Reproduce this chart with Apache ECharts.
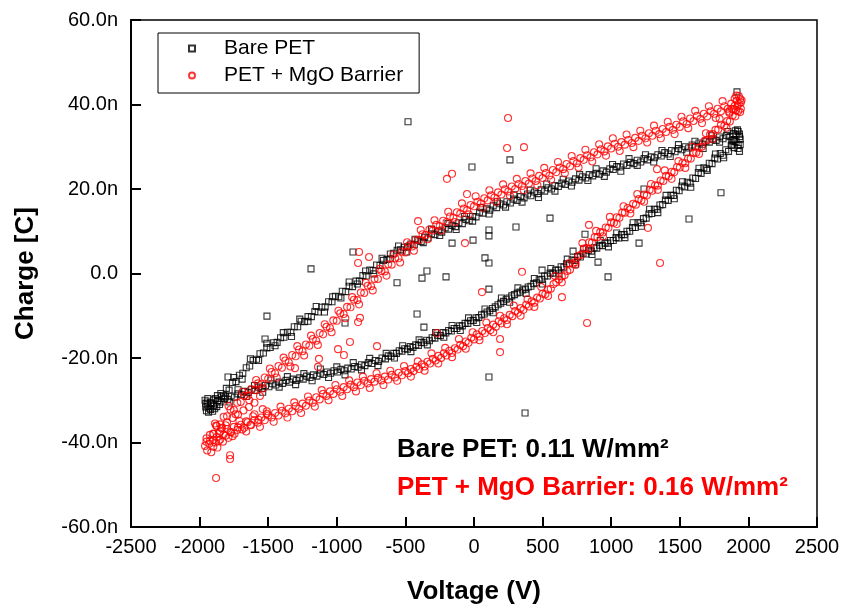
<!DOCTYPE html>
<html>
<head>
<meta charset="utf-8">
<script src="https://cdn.jsdelivr.net/npm/echarts@6/dist/echarts.min.js"></script>
<style>
  html, body { margin: 0; padding: 0; background: #fff; }
  #main { width: 844px; height: 610px; }
</style>
</head>
<body>
<div id="main"></div>
<script>
// Bare PET, upper branch (V, nC)
var bareUp = [[-1955,-31.6],[-1945,-30.4],[-1930,-31.9],[-1915,-30.7],[-1900,-31.4],[-1885,-29.6],[-1865,-30.1],[-1845,-28.4],[-1825,-28.9],[-1805,-27.2],[-1785,-27.6],[-1760,-25.8],[-1735,-25.6],[-1710,-24.1],[-1685,-23.6],[-1660,-22.3],[-1635,-21.9],[-1610,-20.6],[-1585,-20.3],[-1560,-19.0],[-1535,-18.8],[-1510,-17.6],[-1485,-17.5],[-1460,-16.4],[-1435,-16.3],[-1410,-15.2],[-1385,-15.1],[-1360,-13.9],[-1335,-13.9],[-1310,-12.6],[-1285,-12.6],[-1260,-11.3],[-1235,-11.4],[-1210,-10.2],[-1185,-10.2],[-1160,-9.0],[-1135,-9.1],[-1110,-8.0],[-1085,-7.9],[-1060,-6.7],[-1035,-6.7],[-1010,-5.4],[-985,-5.5],[-960,-4.2],[-935,-4.3],[-910,-3.0],[-885,-3.1],[-860,-1.8],[-835,-1.8],[-810,-0.5],[-785,-0.6],[-760,0.8],[-735,0.7],[-710,2.0],[-685,1.9],[-660,3.1],[-635,3.3],[-610,4.6],[-585,4.8],[-560,5.5],[-535,5.6],[-510,6.2],[-485,6.3],[-460,7.0],[-435,6.8],[-410,7.9],[-385,7.6],[-360,8.6],[-335,8.4],[-310,9.4],[-285,9.2],[-260,10.1],[-235,9.8],[-210,10.8],[-185,10.5],[-160,11.4],[-135,11.1],[-110,12.0],[-85,11.8],[-60,12.8],[-35,12.5],[-10,13.5],[15,13.4],[40,14.5],[65,14.3],[90,15.3],[115,15.0],[140,16.0],[165,15.6],[190,16.5],[215,16.2],[240,17.0],[265,16.7],[290,17.6],[315,17.3],[340,18.2],[365,17.9],[390,18.8],[415,18.4],[440,19.3],[465,18.9],[490,19.8],[515,19.5],[540,20.3],[565,20.0],[590,20.8],[615,20.6],[640,21.4],[665,21.1],[690,21.9],[715,21.6],[740,22.4],[765,22.1],[790,22.9],[815,22.6],[840,23.4],[865,23.1],[890,23.7],[915,23.5],[940,24.3],[965,24.0],[990,24.8],[1015,24.6],[1040,25.3],[1065,25.2],[1090,25.9],[1115,25.6],[1140,26.3],[1165,26.0],[1190,26.8],[1215,26.4],[1240,27.2],[1265,26.9],[1290,27.6],[1315,27.4],[1340,28.1],[1365,27.8],[1390,28.6],[1415,28.3],[1440,29.1],[1465,28.8],[1490,29.6],[1515,29.3],[1540,30.0],[1565,29.7],[1590,30.4],[1615,30.1],[1640,30.9],[1665,30.6],[1690,31.3],[1715,31.1],[1740,31.8],[1765,31.5],[1790,32.3],[1815,31.9],[1840,32.7],[1865,32.4],[1890,33.1],[1910,32.8],[1925,33.6],[1935,32.4]];
var bareUpSpread = [[-1870,-28.9],[-1810,-29.2],[-1750,-24.6],[-1690,-25.0],[-1630,-20.2],[-1570,-20.6],[-1510,-16.5],[-1450,-17.1],[-1390,-14.0],[-1330,-14.9],[-1270,-10.8],[-1210,-11.3],[-1150,-7.8],[-1090,-9.1],[-1030,-5.5],[-970,-5.8],[-910,-2.0],[-850,-2.5],[-790,0.6],[-730,-0.1],[-670,3.6],[-610,3.5],[-550,6.5],[-490,5.1],[-430,8.1],[-370,7.3],[-310,10.5],[-250,9.0],[-190,11.8],[-130,10.4],[-70,13.5],[-10,12.4],[50,15.6],[110,14.1],[170,17.0],[230,15.7],[290,18.6],[350,16.9],[410,19.7],[470,18.0],[530,21.2],[590,19.5],[650,22.3],[710,20.7],[770,23.4],[830,22.0],[890,24.8],[950,23.0],[1010,25.8],[1070,24.2],[1130,27.2],[1190,25.6],[1250,28.1],[1310,26.4],[1370,29.1],[1430,27.7],[1490,30.5],[1550,28.7],[1610,31.3],[1670,29.6],[1730,32.6],[1790,31.1],[1850,33.6],[1900,31.7]];
// Bare PET, lower branch
var bareDown = [[1940,31.8],[1925,30.4],[1910,31.2],[1895,29.8],[1875,30.3],[1855,28.9],[1835,29.3],[1815,28.0],[1795,28.4],[1775,27.1],[1755,27.3],[1735,26.0],[1715,26.1],[1695,24.8],[1675,25.0],[1655,23.7],[1635,23.9],[1615,22.5],[1595,22.6],[1575,21.4],[1555,21.6],[1535,20.5],[1515,20.7],[1495,19.6],[1475,19.7],[1455,18.5],[1435,18.5],[1415,17.3],[1395,17.4],[1375,16.3],[1355,16.2],[1335,15.2],[1315,15.2],[1295,14.2],[1275,14.1],[1255,13.1],[1235,13.0],[1215,12.0],[1195,12.0],[1175,10.9],[1155,10.9],[1135,10.0],[1115,10.0],[1095,9.2],[1075,9.2],[1055,8.4],[1035,8.5],[1015,7.8],[995,7.8],[975,7.2],[955,7.2],[935,6.6],[915,6.7],[895,6.0],[875,6.1],[855,5.3],[835,5.5],[815,4.6],[795,4.8],[775,3.9],[755,4.0],[735,3.1],[715,3.2],[695,2.3],[675,2.3],[655,1.5],[635,1.6],[615,0.8],[595,0.8],[575,0.1],[555,0.1],[535,-0.6],[515,-0.6],[495,-1.4],[475,-1.5],[455,-2.2],[435,-2.4],[415,-3.0],[395,-3.2],[375,-3.7],[355,-3.9],[335,-4.4],[315,-4.6],[295,-5.0],[275,-5.3],[255,-5.8],[235,-6.1],[215,-6.6],[195,-7.0],[175,-7.4],[155,-7.9],[135,-8.3],[115,-8.8],[95,-9.1],[75,-9.6],[55,-9.8],[35,-10.4],[15,-10.5],[-5,-11.1],[-25,-11.2],[-45,-11.8],[-65,-11.8],[-85,-12.4],[-105,-12.4],[-125,-13.0],[-145,-13.0],[-165,-13.6],[-185,-13.5],[-205,-14.1],[-225,-14.0],[-245,-14.7],[-265,-14.6],[-285,-15.3],[-305,-15.2],[-325,-15.9],[-345,-15.8],[-365,-16.4],[-385,-16.3],[-405,-17.0],[-425,-16.9],[-445,-17.5],[-465,-17.3],[-485,-17.9],[-505,-17.8],[-525,-18.4],[-545,-18.3],[-565,-18.9],[-585,-18.9],[-605,-19.6],[-625,-19.5],[-645,-20.2],[-670,-20.0],[-695,-20.8],[-720,-20.6],[-745,-21.3],[-770,-21.1],[-795,-21.8],[-820,-21.6],[-845,-22.2],[-870,-22.0],[-895,-22.6],[-920,-22.4],[-945,-23.0],[-970,-22.7],[-995,-23.3],[-1020,-23.0],[-1045,-23.6],[-1070,-23.3],[-1095,-23.9],[-1120,-23.6],[-1145,-24.3],[-1170,-24.0],[-1195,-24.6],[-1220,-24.3],[-1245,-25.0],[-1270,-24.7],[-1295,-25.3],[-1320,-25.0],[-1345,-25.7],[-1370,-25.3],[-1395,-26.0],[-1420,-25.7],[-1445,-26.4],[-1470,-26.1],[-1495,-26.8],[-1520,-26.5],[-1545,-27.2],[-1570,-26.9],[-1595,-27.7],[-1620,-27.4],[-1645,-28.2],[-1670,-27.9],[-1695,-28.7],[-1720,-28.5],[-1745,-29.3],[-1770,-29.0],[-1795,-29.8],[-1820,-29.6],[-1845,-30.4],[-1870,-30.1],[-1895,-30.9],[-1920,-30.6],[-1940,-31.4],[-1955,-30.8]];
var bareDownSpread = [[1880,31.4],[1820,27.4],[1760,28.3],[1700,24.4],[1640,24.9],[1580,20.4],[1520,21.7],[1460,17.7],[1400,18.5],[1340,14.4],[1280,15.2],[1220,11.2],[1160,12.0],[1100,8.5],[1040,9.6],[980,6.3],[920,7.8],[860,4.5],[800,5.8],[740,2.2],[680,3.4],[620,-0.1],[560,1.2],[500,-2.5],[440,-1.2],[380,-4.7],[320,-3.4],[260,-6.8],[200,-5.8],[140,-9.3],[80,-8.4],[20,-11.6],[-40,-10.5],[-100,-13.5],[-160,-12.3],[-220,-15.1],[-280,-14.0],[-340,-16.9],[-400,-15.7],[-460,-18.5],[-520,-17.1],[-580,-20.0],[-640,-18.9],[-700,-21.8],[-760,-20.1],[-820,-22.8],[-880,-21.1],[-940,-24.0],[-1000,-22.1],[-1060,-24.6],[-1120,-22.6],[-1180,-25.4],[-1240,-23.7],[-1300,-26.3],[-1360,-24.4],[-1420,-26.9],[-1480,-25.2],[-1540,-28.1],[-1600,-26.5],[-1660,-29.1],[-1720,-27.5],[-1780,-30.4],[-1840,-29.2]];
// Bare PET, clusters at both tips
var bareTips = [[-1950,-32.5],[-1935,-32.8],[-1920,-32.2],[-1905,-32.6],[-1890,-32.0],[-1960,-30.0],[-1940,-29.6],[-1900,-29.9],[-1875,-31.5],[-1855,-31.0],[1920,34.0],[1935,33.0],[1905,33.8],[1940,30.5],[1925,29.6],[1890,31.5],[1880,30.6],[1935,28.9]];
// Bare PET, stray points
var bareStray = [[-481,35.9],[-1188,1.1],[-882,5.1],[-561,-2.2],[-379,-1.1],[-15,25.2],[262,26.9],[554,13.1],[306,11.0],[109,10.3],[109,8.9],[-7,7.9],[-160,7.2],[80,3.7],[109,2.5],[-343,0.6],[-204,-0.8],[1800,19.1],[1567,12.9],[1203,7.2],[1239,20.0],[809,9.3],[904,2.7],[977,-0.8],[1917,43.0],[722,5.3],[496,0.8],[109,-3.7],[-415,-9.6],[-365,-12.7],[109,-24.5],[372,-33.0],[-1509,-10.1],[-1523,-15.5],[-1793,-24.5],[-940,-11.7]];

// PET + MgO barrier, upper branch
var mgoUp = [[-1950,-39.8],[-1925,-38.2],[-1900,-37.9],[-1875,-36.1],[-1850,-35.7],[-1825,-33.9],[-1800,-33.8],[-1775,-32.2],[-1750,-32.3],[-1725,-30.6],[-1700,-30.4],[-1675,-28.9],[-1650,-29.0],[-1625,-27.4],[-1600,-27.6],[-1575,-26.0],[-1550,-26.2],[-1525,-24.6],[-1500,-24.9],[-1475,-23.3],[-1450,-23.6],[-1425,-21.9],[-1400,-22.3],[-1375,-20.6],[-1350,-21.0],[-1325,-19.3],[-1300,-19.6],[-1275,-18.0],[-1250,-18.4],[-1225,-16.8],[-1200,-17.1],[-1175,-15.5],[-1150,-15.9],[-1125,-14.1],[-1100,-14.4],[-1075,-12.6],[-1050,-12.9],[-1025,-11.1],[-1000,-11.2],[-975,-9.4],[-950,-9.6],[-925,-7.9],[-900,-8.0],[-875,-6.2],[-850,-6.3],[-825,-4.5],[-800,-4.6],[-775,-2.9],[-750,-3.0],[-725,-1.3],[-700,-1.3],[-675,0.6],[-650,0.5],[-625,2.2],[-600,2.1],[-575,3.6],[-550,3.6],[-525,5.2],[-500,5.0],[-475,6.6],[-450,6.4],[-425,8.0],[-400,7.9],[-375,9.3],[-350,9.1],[-325,10.4],[-300,10.2],[-275,11.5],[-250,11.2],[-225,12.5],[-200,12.2],[-175,13.5],[-150,13.2],[-125,14.5],[-100,14.2],[-75,15.4],[-50,15.0],[-25,16.2],[0,15.9],[25,17.0],[50,16.6],[75,17.8],[100,17.3],[125,18.5],[150,18.0],[175,19.2],[200,18.7],[225,19.9],[250,19.4],[275,20.6],[300,20.0],[325,21.2],[350,20.7],[375,21.9],[400,21.3],[425,22.5],[450,21.9],[475,23.1],[500,22.6],[525,23.8],[550,23.2],[575,24.5],[600,24.0],[625,25.1],[650,24.7],[675,25.9],[700,25.4],[725,26.6],[750,26.1],[775,27.3],[800,26.9],[825,28.0],[850,27.5],[875,28.7],[900,28.2],[925,29.4],[950,28.9],[975,30.1],[1000,29.6],[1025,30.7],[1050,30.0],[1075,31.1],[1100,30.5],[1125,31.6],[1150,30.9],[1175,32.1],[1200,31.4],[1225,32.6],[1250,32.0],[1275,33.2],[1300,32.6],[1325,33.8],[1350,33.0],[1375,34.2],[1400,33.5],[1425,34.7],[1450,34.0],[1475,35.2],[1500,34.7],[1525,36.0],[1550,35.4],[1575,36.7],[1600,36.1],[1625,37.3],[1650,36.6],[1675,37.8],[1700,37.2],[1725,38.4],[1750,37.8],[1775,39.0],[1800,38.4],[1825,39.6],[1850,39.0],[1875,40.2],[1900,39.7],[1915,40.9],[1930,40.2],[1940,41.3]];
var mgoUpSpread = [[-1888,-35.5],[-1838,-36.7],[-1788,-31.4],[-1738,-33.3],[-1688,-28.0],[-1638,-30.0],[-1588,-25.2],[-1538,-27.2],[-1488,-22.5],[-1438,-24.6],[-1388,-19.9],[-1338,-22.0],[-1288,-17.2],[-1238,-19.4],[-1188,-14.7],[-1138,-16.9],[-1088,-12.0],[-1038,-13.9],[-988,-8.8],[-938,-10.6],[-888,-5.6],[-838,-7.3],[-788,-2.2],[-738,-4.0],[-688,1.1],[-638,-0.5],[-588,4.5],[-538,2.6],[-488,7.4],[-438,5.4],[-388,10.3],[-338,8.1],[-288,12.6],[-238,10.2],[-188,14.6],[-138,12.2],[-88,16.6],[-38,14.0],[12,18.3],[62,15.6],[112,19.7],[162,17.0],[212,21.1],[262,18.4],[312,22.4],[362,19.7],[412,23.7],[462,20.9],[512,25.0],[562,22.2],[612,26.4],[662,23.7],[712,27.8],[762,25.1],[812,29.3],[862,26.5],[912,30.6],[962,27.9],[1012,32.0],[1062,29.0],[1112,32.9],[1162,29.9],[1212,33.8],[1262,31.0],[1312,35.0],[1362,32.0],[1412,35.9],[1462,33.0],[1512,37.1],[1562,34.4],[1612,38.5],[1662,35.6],[1712,39.6],[1762,36.8],[1812,40.8],[1862,38.0],[1912,42.1]];
// PET + MgO barrier, lower branch
var mgoDown = [[1945,39.0],[1925,38.4],[1905,37.2],[1885,37.4],[1865,36.0],[1845,36.1],[1825,35.0],[1800,35.2],[1780,34.1],[1760,34.0],[1740,33.0],[1720,32.9],[1700,31.6],[1680,31.4],[1660,30.0],[1640,29.8],[1620,28.6],[1600,28.5],[1580,27.2],[1560,27.2],[1540,26.1],[1520,26.2],[1500,25.1],[1480,25.2],[1460,24.0],[1440,24.1],[1420,23.0],[1400,23.1],[1380,21.9],[1360,22.0],[1340,20.8],[1320,20.9],[1300,19.6],[1280,19.8],[1260,18.5],[1240,18.7],[1220,17.3],[1200,17.6],[1180,16.3],[1160,16.5],[1140,15.2],[1120,15.5],[1100,14.4],[1080,14.4],[1060,13.2],[1040,13.3],[1020,12.0],[1000,12.1],[980,10.8],[960,10.9],[940,9.7],[920,9.8],[900,8.6],[880,8.6],[860,7.3],[840,7.4],[820,6.0],[800,5.9],[780,4.4],[760,4.2],[740,2.7],[720,2.3],[700,0.9],[680,0.6],[660,-0.4],[640,-0.7],[620,-1.4],[600,-2.1],[580,-2.5],[560,-3.6],[540,-3.8],[520,-4.9],[500,-4.8],[480,-5.9],[460,-5.7],[440,-6.9],[420,-6.6],[400,-7.8],[380,-7.4],[360,-8.6],[340,-8.2],[320,-9.3],[300,-8.9],[280,-10.1],[260,-9.8],[240,-11.0],[220,-10.6],[200,-11.8],[180,-11.3],[160,-12.6],[140,-12.1],[120,-13.4],[100,-12.9],[80,-14.1],[60,-13.6],[40,-14.9],[20,-14.4],[0,-15.6],[-20,-15.2],[-40,-16.4],[-60,-16.1],[-80,-17.2],[-100,-16.9],[-120,-18.0],[-140,-17.7],[-160,-18.8],[-180,-18.3],[-200,-19.4],[-220,-18.9],[-240,-20.0],[-260,-19.5],[-280,-20.6],[-300,-20.2],[-320,-21.3],[-340,-20.9],[-360,-22.0],[-380,-21.5],[-400,-22.6],[-420,-22.1],[-440,-23.1],[-460,-22.6],[-480,-23.6],[-500,-23.1],[-525,-24.1],[-550,-23.5],[-575,-24.6],[-600,-24.0],[-625,-25.1],[-650,-24.4],[-675,-25.3],[-700,-24.7],[-725,-25.6],[-750,-25.0],[-775,-26.0],[-800,-25.4],[-825,-26.4],[-850,-25.8],[-875,-26.9],[-900,-26.3],[-925,-27.4],[-950,-26.9],[-975,-28.0],[-1000,-27.4],[-1025,-28.5],[-1050,-27.9],[-1075,-29.0],[-1100,-28.5],[-1125,-29.8],[-1150,-29.3],[-1175,-30.6],[-1200,-30.1],[-1225,-31.3],[-1250,-30.8],[-1275,-32.0],[-1300,-31.4],[-1325,-32.6],[-1350,-32.0],[-1375,-33.1],[-1400,-32.5],[-1425,-33.6],[-1450,-33.0],[-1475,-34.1],[-1500,-33.6],[-1525,-34.7],[-1550,-34.1],[-1575,-35.3],[-1600,-34.7],[-1625,-35.9],[-1650,-35.2],[-1675,-36.5],[-1700,-35.8],[-1725,-37.0],[-1750,-36.3],[-1775,-37.5],[-1800,-36.8],[-1825,-38.1],[-1850,-37.4],[-1875,-38.7],[-1900,-38.0],[-1925,-39.6],[-1950,-39.0]];
var mgoDownSpread = [[1890,38.9],[1840,34.5],[1790,36.6],[1740,31.9],[1690,33.2],[1640,28.3],[1590,30.0],[1540,25.0],[1490,26.6],[1440,22.4],[1390,24.4],[1340,19.8],[1290,21.2],[1240,17.0],[1190,18.8],[1140,14.2],[1090,15.9],[1040,11.7],[990,13.4],[940,8.8],[890,10.1],[840,5.8],[790,7.2],[740,2.0],[690,2.4],[640,-2.1],[590,-0.6],[540,-5.3],[490,-3.2],[440,-7.9],[390,-6.1],[340,-10.0],[290,-7.6],[240,-12.0],[190,-10.0],[140,-13.9],[90,-11.6],[40,-15.8],[-10,-13.9],[-60,-17.8],[-110,-15.5],[-160,-19.8],[-210,-17.6],[-260,-21.3],[-310,-18.9],[-360,-23.0],[-410,-20.8],[-460,-24.4],[-510,-21.9],[-560,-25.4],[-610,-23.0],[-660,-26.4],[-710,-23.6],[-760,-27.1],[-810,-24.4],[-860,-27.9],[-910,-25.3],[-960,-29.0],[-1010,-26.4],[-1060,-30.0],[-1110,-27.6],[-1160,-31.5],[-1210,-29.1],[-1260,-33.0],[-1310,-30.5],[-1360,-34.1],[-1410,-31.5],[-1460,-35.1],[-1510,-32.6],[-1560,-36.3],[-1610,-33.8],[-1660,-37.4],[-1710,-34.9],[-1760,-38.5],[-1810,-35.9],[-1860,-39.6]];
// PET + MgO barrier, filled tips of the loop
var mgoTips = [[-1960,-40.8],[-1945,-41.9],[-1930,-40.3],[-1915,-42.3],[-1900,-41.0],[-1885,-40.0],[-1870,-41.2],[-1850,-39.3],[-1830,-39.8],[-1810,-38.4],[-1790,-38.9],[-1770,-37.6],[-1745,-37.9],[-1720,-36.4],[-1690,-36.9],[-1660,-35.0],[-1630,-35.8],[-1600,-33.3],[-1570,-34.6],[-1540,-32.1],[-1510,-33.2],[-1880,-36.0],[-1840,-36.5],[-1800,-35.2],[-1760,-34.2],[-1720,-33.4],[-1680,-32.4],[-1640,-31.6],[-1600,-30.6],[-1560,-29.0],[-1900,-39.4],[-1860,-37.8],[1930,42.0],[1945,40.5],[1920,39.5],[1900,41.4],[1940,38.2],[1910,38.6],[1880,39.0],[1950,41.0],[1860,38.3]];
// PET + MgO barrier, stray points
var mgoStray = [[-1880,-48.4],[-1778,-43.0],[-1778,-43.9],[-408,12.4],[-838,5.1],[-765,3.9],[-845,2.5],[248,36.8],[241,29.7],[364,29.9],[-197,22.4],[-160,23.6],[-51,18.8],[-66,7.2],[350,0.4],[838,11.5],[1268,10.8],[1356,2.5],[58,-4.4],[641,-5.6],[190,-15.5],[190,-18.6],[-270,-14.1],[824,-11.7],[-904,-16.2],[-991,-17.9],[-948,-19.3],[-1130,-20.2],[-1137,-22.1],[-1305,-22.4],[-707,-17.2],[-831,-10.5],[-845,-11.5],[1334,24.7]];

var font = 'Arial, "Liberation Sans", sans-serif';

var chart = echarts.init(document.getElementById('main'), null, { renderer: 'canvas' });

var option = {
  animation: false,
  backgroundColor: '#fff',
  grid: {
    left: 131, top: 20, right: 27, bottom: 83,
    show: true, borderColor: '#000', borderWidth: 1.5
  },
  legend: {
    orient: 'vertical',
    left: 158, top: 33,
    padding: [5, 16, 7, 30],
    itemGap: 6,
    itemWidth: 6, itemHeight: 6,
    borderColor: '#000', borderWidth: 1,
    textStyle: { fontSize: 21, fontFamily: font, color: '#000', padding: [0, 0, 0, 24] },
    data: ['Bare PET', 'PET + MgO Barrier']
  },
  xAxis: {
    type: 'value',
    min: -2500, max: 2500, interval: 500,
    name: 'Voltage (V)',
    nameLocation: 'middle',
    nameGap: 52,
    nameTextStyle: { fontSize: 26, fontWeight: 'bold', fontFamily: font, color: '#000' },
    axisLine: { onZero: false, lineStyle: { color: '#000', width: 2 } },
    axisTick: { inside: true, length: 10, lineStyle: { color: '#000', width: 2 } },
    axisLabel: {
      fontSize: 20, fontFamily: font, color: '#000', margin: 10,
      formatter: function (v) { return String(v); }
    },
    splitLine: { show: false }
  },
  yAxis: {
    type: 'value',
    min: -60, max: 60, interval: 20,
    name: 'Charge [C]',
    nameLocation: 'middle',
    nameGap: 92,
    nameTextStyle: { fontSize: 26, fontWeight: 'bold', fontFamily: font, color: '#000' },
    axisLine: { onZero: false, lineStyle: { color: '#000', width: 2 } },
    axisTick: { inside: true, length: 10, lineStyle: { color: '#000', width: 2 } },
    axisLabel: {
      fontSize: 20, fontFamily: font, color: '#000', margin: 13,
      formatter: function (v) {
        return v === 0 ? '0.0' : v.toFixed(1) + 'n';
      }
    },
    splitLine: { show: false }
  },
  graphic: [
    {
      type: 'text', left: 397, top: 437,
      style: { text: 'Bare PET: 0.11 W/mm²', fill: '#000', font: 'bold 26px ' + font }
    },
    {
      type: 'text', left: 397, top: 475,
      style: { text: 'PET + MgO Barrier: 0.16 W/mm²', fill: '#ff0000', font: 'bold 26px ' + font }
    }
  ],
  series: [
    {
      name: 'Bare PET',
      type: 'scatter',
      symbol: 'rect',
      symbolSize: 6,
      itemStyle: { color: 'rgba(0,0,0,0)', borderColor: '#000', borderWidth: 1.1 },
      data: bareUp.concat(bareUpSpread, bareDown, bareDownSpread, bareTips, bareStray)
    },
    {
      name: 'PET + MgO Barrier',
      type: 'scatter',
      symbol: 'circle',
      symbolSize: 7,
      itemStyle: { color: 'rgba(0,0,0,0)', borderColor: '#ff0000', borderWidth: 1.1 },
      data: mgoUp.concat(mgoUpSpread, mgoDown, mgoDownSpread, mgoTips, mgoStray)
    }
  ]
};

chart.setOption(option);
</script>
</body>
</html>
